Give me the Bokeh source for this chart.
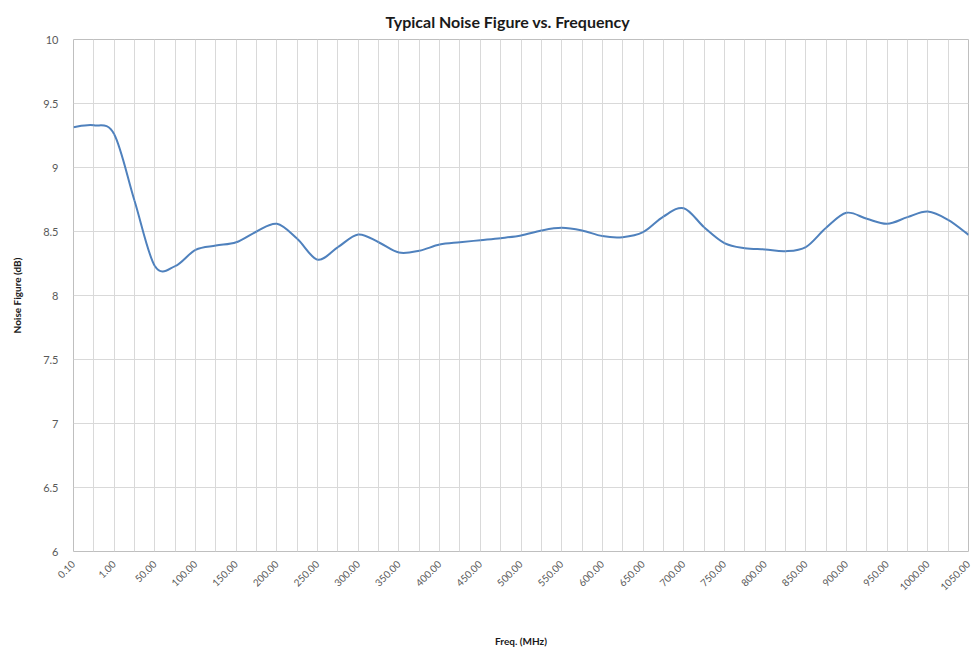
import numpy as np
from bokeh.plotting import figure
from bokeh.models import FixedTicker, Range1d
from bokeh.embed import file_html
from bokeh.resources import INLINE

# ---- data ----
freq_mhz = [0.1, 0.5, 1.0, 25, 50, 75, 100, 125, 150, 175, 200, 225, 250, 275,
            300, 325, 350, 375, 400, 425, 450, 475, 500, 525, 550, 575, 600,
            625, 650, 675, 700, 725, 750, 775, 800, 825, 850, 875, 900, 925,
            950, 975, 1000, 1025, 1050]
noise_db = [9.315, 9.33, 9.26, 8.74, 8.23, 8.23, 8.357, 8.39, 8.416, 8.50,
            8.56, 8.443, 8.28, 8.378, 8.477, 8.416, 8.336, 8.35, 8.398, 8.416,
            8.432, 8.448, 8.469, 8.508, 8.529, 8.508, 8.464, 8.456, 8.495,
            8.617, 8.682, 8.534, 8.41, 8.37, 8.36, 8.346, 8.378, 8.529, 8.646,
            8.599, 8.56, 8.612, 8.656, 8.591, 8.474]
y_ticks = [6, 6.5, 7, 7.5, 8, 8.5, 9, 9.5, 10]
y_tick_labels = ["6", "6.5", "7", "7.5", "8", "8.5", "9", "9.5", "10"]
title_text = "Typical Noise Figure vs. Frequency"
x_title = "Freq. (MHz)"
y_title = "Noise Figure (dB)"

n = len(freq_mhz)
idx = list(range(n))
label_idx = [i for i in idx if i % 2 == 0]
x_tick_labels = {i: f"{freq_mhz[i]:.2f}" for i in label_idx}

# smoothed line (Catmull-Rom as bezier segments, like a smoothed spreadsheet line)
xs = np.array(idx, dtype=float)
ys = np.array(noise_db, dtype=float)
x0, y0, x1, y1, cx0, cy0, cx1, cy1 = [], [], [], [], [], [], [], []
for i in range(n - 1):
    a = max(i - 1, 0)
    d = min(i + 2, n - 1)
    x0.append(xs[i]); y0.append(ys[i])
    x1.append(xs[i + 1]); y1.append(ys[i + 1])
    cx0.append(xs[i] + (xs[i + 1] - xs[a]) / 6)
    cy0.append(ys[i] + (ys[i + 1] - ys[a]) / 6)
    cx1.append(xs[i + 1] - (xs[d] - xs[i]) / 6)
    cy1.append(ys[i + 1] - (ys[d] - ys[i]) / 6)

p = figure(width=979, height=652, output_backend="svg", toolbar_location=None,
           x_range=Range1d(0, n - 1), y_range=Range1d(6, 10),
           min_border_left=73, min_border_top=39, min_border_right=11,
           min_border_bottom=101)

p.bezier(x0=x0, y0=y0, x1=x1, y1=y1, cx0=cx0, cy0=cy0, cx1=cx1, cy1=cy1,
         line_color="#4f81bd", line_width=2)

# title
p.title.text = title_text
p.title.align = "left"
p.title.offset = 312
p.title.text_font = "Lato"
p.title.text_font_size = "16px"
p.title.text_font_style = "bold"
p.title.text_color = "#1a1a1a"
p.title.standoff = 18

# frame / grid
p.outline_line_color = "#bfbfbf"
p.background_fill_color = "white"
p.border_fill_color = "white"
p.xgrid.ticker = FixedTicker(ticks=idx)
p.ygrid.ticker = FixedTicker(ticks=y_ticks)
p.xgrid.grid_line_color = "#d9d9d9"
p.ygrid.grid_line_color = "#d9d9d9"
p.xgrid.grid_line_width = 1
p.ygrid.grid_line_width = 1

# x axis
p.xaxis.ticker = FixedTicker(ticks=label_idx)
p.xaxis.major_label_overrides = x_tick_labels
p.xaxis.major_label_orientation = np.pi / 4
p.xaxis.major_label_text_font = "Lato"
p.xaxis.major_label_text_font_size = "10px"
p.xaxis.major_label_text_color = "#595959"
p.xaxis.major_label_standoff = 5
p.xaxis.axis_label = x_title
p.xaxis.axis_label_text_font = "Lato"
p.xaxis.axis_label_text_font_size = "10px"
p.xaxis.axis_label_text_font_style = "bold"
p.xaxis.axis_label_text_color = "#1a1a1a"
p.xaxis.axis_label_standoff = 38

# y axis
p.yaxis.ticker = FixedTicker(ticks=y_ticks)
p.yaxis.major_label_overrides = {t: l for t, l in zip(y_ticks, y_tick_labels)}
p.yaxis.major_label_text_font = "Lato"
p.yaxis.major_label_text_font_size = "11px"
p.yaxis.major_label_text_color = "#595959"
p.yaxis.major_label_standoff = 9
p.yaxis.axis_label = y_title
p.yaxis.axis_label_text_font = "Lato"
p.yaxis.axis_label_text_font_size = "10px"
p.yaxis.axis_label_text_font_style = "bold"
p.yaxis.axis_label_text_color = "#1a1a1a"
p.yaxis.axis_label_standoff = 17

for ax in (p.xaxis, p.yaxis):
    ax.axis_line_color = None
    ax.major_tick_line_color = None
    ax.minor_tick_line_color = None

open("out.html", "w").write(file_html(p, INLINE))
